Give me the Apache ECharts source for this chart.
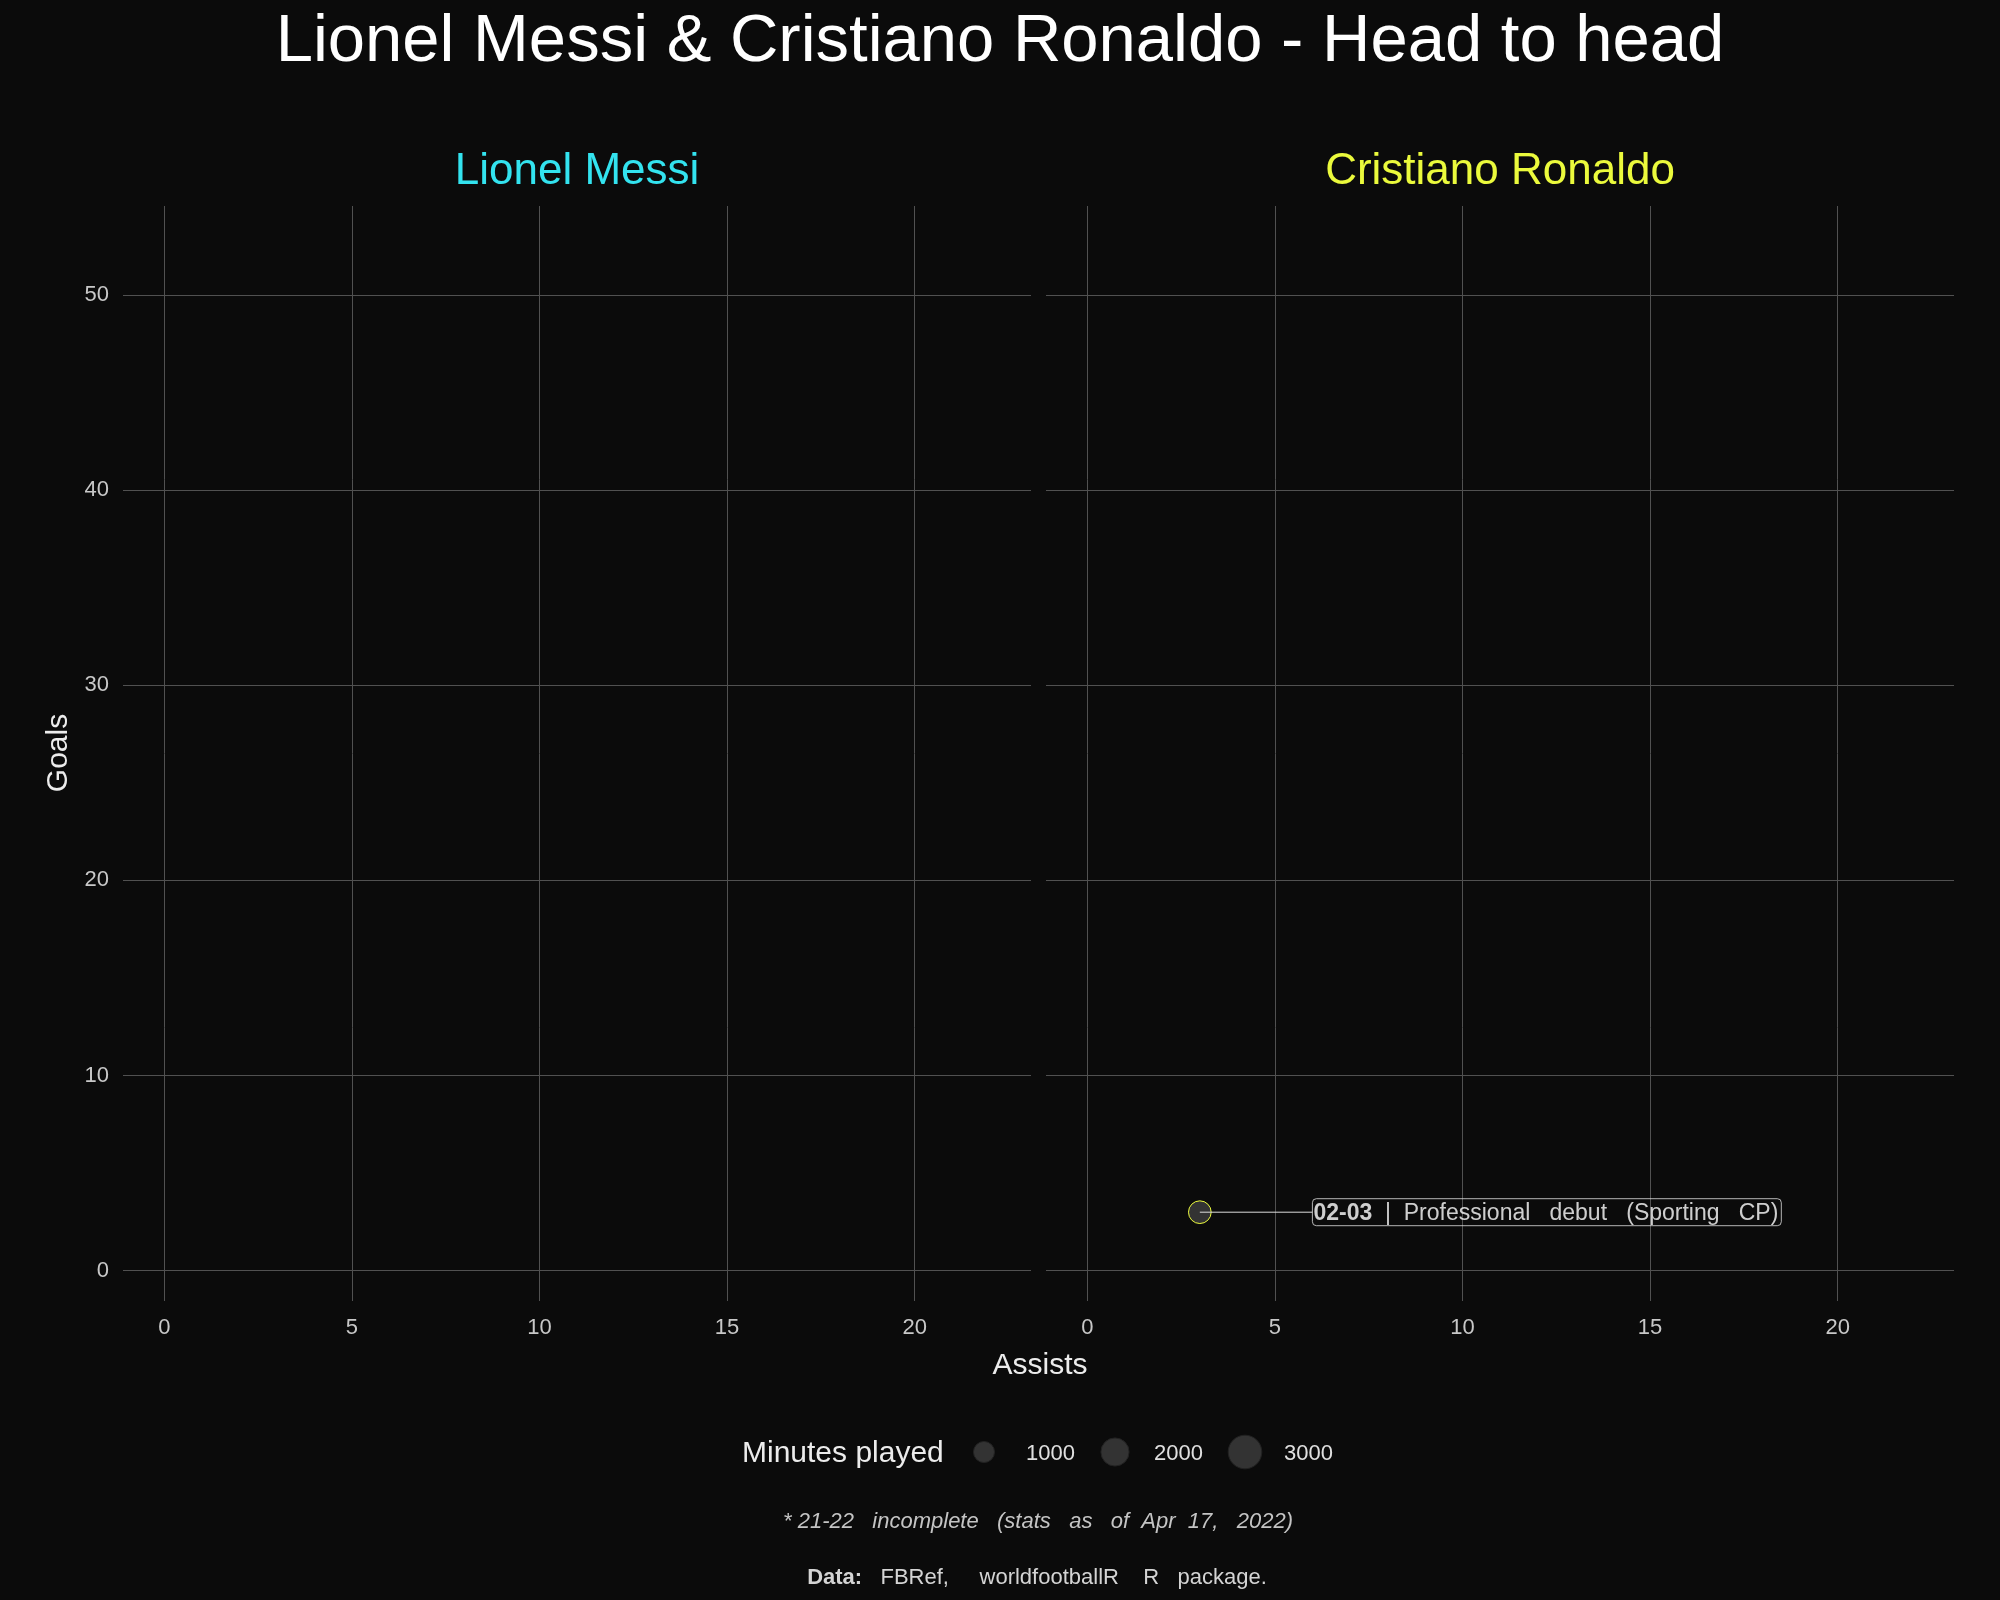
<!DOCTYPE html>
<html><head><meta charset="utf-8">
<script src="https://cdn.jsdelivr.net/npm/echarts@6/dist/echarts.min.js"></script>
<style>html,body{margin:0;padding:0;background:#0b0b0b;}#c{width:2000px;height:1600px;}</style>
</head><body><div id="c"></div>
<script>
// ---------- data ----------
const panelNames = ['Lionel Messi', 'Cristiano Ronaldo'];
const xTicks = [0, 5, 10, 15, 20];
const yTicks = [0, 10, 20, 30, 40, 50];

// Lionel Messi (no season shown yet in this frame)
const messiSeasons = [];
const messiAssists = [];
const messiGoals = [];
const messiMinutes = [];
const messiNotes = [];

// Cristiano Ronaldo
const ronaldoSeasons = ['02-03'];
const ronaldoAssists = [3];
const ronaldoGoals = [3];
const ronaldoMinutes = [1200];
const ronaldoNotes = ['Professional debut (Sporting CP)'];

const legendMinutes = [1000, 2000, 3000];
const legendLabels = ['1000', '2000', '3000'];

// ---------- styles / layout ----------
const FONT = "'Liberation Sans', Arial, sans-serif";
const BG = '#0b0b0b';
const GRID = '#515151';
const colMessi = '#33e3ef';
const colRonaldo = '#ebfa3c';
const sizeFn = m => 4 + 0.54 * Math.sqrt(m);
const NUDGE_X = 3;

function rows(seasons, a, g, m, n) {
  return seasons.map((s, i) => ({ season: s, x: a[i], y: g[i], min: m[i], note: n[i] }));
}
const panels = [
  { rows: rows(messiSeasons, messiAssists, messiGoals, messiMinutes, messiNotes), color: colMessi },
  { rows: rows(ronaldoSeasons, ronaldoAssists, ronaldoGoals, ronaldoMinutes, ronaldoNotes), color: colRonaldo }
];

const grids = [
  { left: 123, top: 206, width: 908, height: 1095 },
  { left: 1046, top: 206, width: 908, height: 1095 }
];

const xAxes = grids.map((g, i) => ({
  type: 'value', gridIndex: i, min: -1.1, max: 23.1,
  axisLine: { show: false },
  axisTick: { show: false, customValues: xTicks },
  axisLabel: { customValues: xTicks, color: '#c8c8c8', fontSize: 22, fontFamily: FONT, margin: 16 },
  splitLine: { show: true, lineStyle: { color: GRID, width: 1 } }
}));
const yAxes = grids.map((g, i) => ({
  type: 'value', gridIndex: i, min: -1.55, max: 54.55,
  axisLine: { show: false },
  axisTick: { show: false, customValues: yTicks },
  axisLabel: { show: i === 0, customValues: yTicks, color: '#c8c8c8', fontSize: 22, fontFamily: FONT, margin: 14, padding: [4, 0, 0, 0] },
  splitLine: { show: true, lineStyle: { color: GRID, width: 1 } }
}));

const series = [];
panels.forEach((p, i) => {
  series.push({
    type: 'scatter', xAxisIndex: i, yAxisIndex: i, z: 3,
    data: p.rows.map(r => [r.x, r.y, r.min]),
    symbolSize: v => sizeFn(v[2]),
    itemStyle: { color: '#333333', borderColor: p.color, borderWidth: 1, opacity: 1 },
    silent: true
  });
  p.rows.forEach(r => {
    series.push({
      type: 'line', xAxisIndex: i, yAxisIndex: i, z: 4,
      data: [[r.x, r.y], [r.x + NUDGE_X, r.y]],
      symbol: 'none', lineStyle: { color: '#dddddd', width: 1 }, silent: true
    });
  });
  series.push({
    type: 'scatter', xAxisIndex: i, yAxisIndex: i, z: 5,
    data: p.rows.map(r => ({ value: [r.x + NUDGE_X, r.y], season: r.season, note: r.note })),
    symbolSize: 0,
    label: {
      show: true, position: 'right', distance: 0,
      formatter: prm => '{b|' + prm.data.season + '}{n|  |  ' + prm.data.note.split(' ').join('   ') + '}',
      borderColor: '#e0e0e0', borderWidth: 1, borderRadius: 4,
      padding: [3, 3, 0, 1],
      rich: {
        b: { fontWeight: 'bold', fontSize: 23, color: '#ffffff', fontFamily: FONT, lineHeight: 24 },
        n: { fontSize: 23, color: '#ffffff', fontFamily: FONT, lineHeight: 24 }
      }
    },
    silent: true
  });
});

// ---------- graphic texts & size legend ----------
const graphic = [];
panelNames.forEach((name, i) => {
  graphic.push({
    type: 'text', x: grids[i].left + grids[i].width / 2, y: 172,
    style: { text: name, fill: panels[i].color, font: '44px ' + FONT, align: 'center', verticalAlign: 'middle' }
  });
});
graphic.push({
  type: 'text', x: 1040, y: 1366,
  style: { text: 'Assists', fill: '#ececec', font: '30px ' + FONT, align: 'center', verticalAlign: 'middle' }
});
graphic.push({
  type: 'text', x: 59, y: 753, rotation: Math.PI / 2,
  style: { text: 'Goals', fill: '#ececec', font: '30px ' + FONT, align: 'center', verticalAlign: 'middle' }
});
// size legend
const legY = 1454;
const legCircleX = [984, 1115, 1245];
const legLabelX = [1026, 1154, 1284];
graphic.push({
  type: 'text', x: 742, y: legY,
  style: { text: 'Minutes played', fill: '#ececec', font: '30px ' + FONT, align: 'left', verticalAlign: 'middle' }
});
legendMinutes.forEach((m, i) => {
  graphic.push({
    type: 'circle', shape: { cx: legCircleX[i], cy: legY - 2, r: sizeFn(m) / 2 },
    style: { fill: '#333333', stroke: '#222222', lineWidth: 1 }
  });
  graphic.push({
    type: 'text', x: legLabelX[i], y: legY,
    style: { text: legendLabels[i], fill: '#e0e0e0', font: '22px ' + FONT, align: 'left', verticalAlign: 'middle' }
  });
});
graphic.push({
  type: 'text', x: 1038, y: 1522,
  style: { text: '* 21-22   incomplete   (stats   as   of  Apr  17,   2022)', fill: '#c4c4c4', font: 'italic 22px ' + FONT, align: 'center', verticalAlign: 'middle' }
});
graphic.push({
  type: 'text', x: 1037, y: 1578,
  style: {
    text: '{b|Data:}{n|   FBRef,     worldfootballR    R   package.}',
    align: 'center', verticalAlign: 'middle',
    rich: {
      b: { fontWeight: 'bold', fontSize: 22, fill: '#d4d4d4', fontFamily: FONT },
      n: { fontSize: 22, fill: '#d4d4d4', fontFamily: FONT }
    }
  }
});

const chart = echarts.init(document.getElementById('c'), null, { renderer: 'canvas' });
chart.setOption({
  backgroundColor: BG,
  animation: false,
  title: {
    text: 'Lionel Messi & Cristiano Ronaldo - Head to head',
    left: 'center', top: 4,
    textStyle: { color: '#ffffff', fontSize: 67, fontWeight: 'normal', fontFamily: FONT }
  },
  grid: grids,
  xAxis: xAxes,
  yAxis: yAxes,
  series: series,
  graphic: graphic
});
</script></body></html>
